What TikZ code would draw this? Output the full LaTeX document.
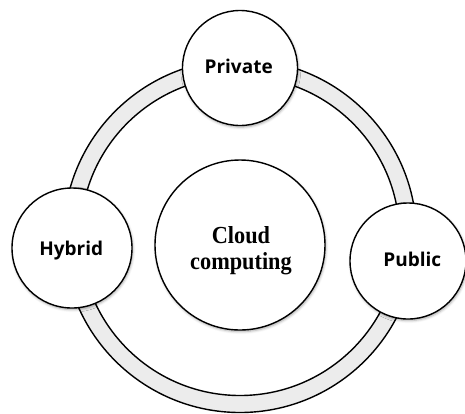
\documentclass[tikz,border=0pt]{standalone}
\usepackage{fontspec}
\newfontfamily\labelfont{Open Sans}
\newfontfamily\corefont[FakeStretch=0.91]{Liberation Serif}
\usetikzlibrary{shadows.blur}
\begin{document}
\begin{tikzpicture}[x=1pt,y=-1pt,
    outline/.style={draw=black, line width=1.4pt},
    softshadow/.style={blur shadow={shadow xshift=0.8pt, shadow yshift=-1.6pt,
        shadow blur radius=2.5pt, shadow opacity=35}},
    bubble/.style={circle, outline, fill=white, inner sep=0pt, softshadow},
    tag/.style={inner sep=0pt, anchor=base,
        font=\labelfont\bfseries\fontsize{19}{22}\selectfont},
    coretext/.style={inner sep=0pt, align=center,
        font=\corefont\bfseries\fontsize{24.5}{26}\selectfont}]
  \useasboundingbox (0,0) rectangle (465,413);

  % the ring that links the three deployment models
  \coordinate (hub) at (240,236);
  \draw[outline, fill=gray!15, even odd rule] (hub) circle (176.5) (hub) circle (159.5);

  % centre circle
  \node[bubble, minimum size=170pt] (cloud) at (240,245) {};
  \node[coretext] (cloudtext) at (241,251) {Cloud\\computing};

  % deployment models sitting on the ring
  \node[bubble, minimum size=115pt] (private) at (240,68) {};
  \node[bubble, minimum size=120pt] (hybrid) at (72,248) {};
  \node[bubble, minimum size=116pt] (public) at (408,261) {};

  \node[tag] (privatetext) at (238.7,73) {Private};
  \node[tag] (hybridtext) at (71.2,255.5) {Hybrid};
  \node[tag] (publictext) at (412.3,266.3) {Public};
\end{tikzpicture}
\end{document}
